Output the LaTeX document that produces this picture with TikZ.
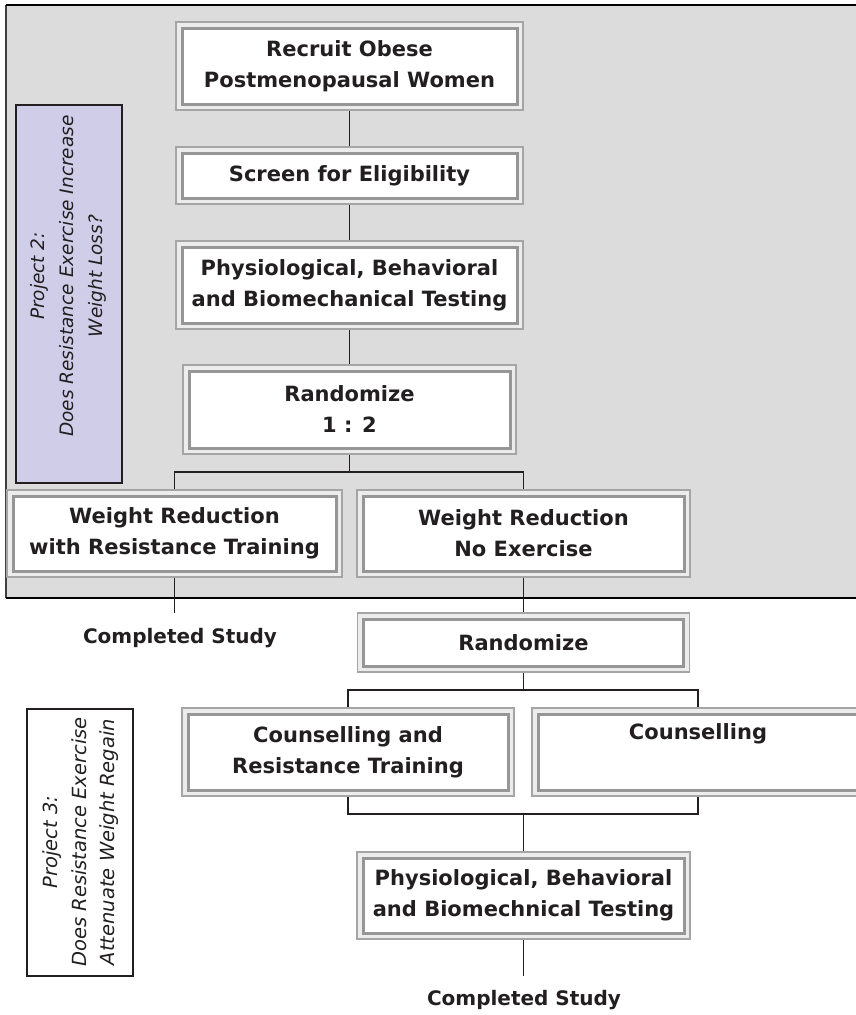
\documentclass[tikz,border=0pt]{standalone}
\usepackage{fontspec}
\setmainfont{DejaVu Sans}
\pgfdeclarelayer{back}
\pgfdeclarelayer{lines}
\pgfdeclarelayer{frames}
\pgfsetlayers{back,lines,frames,main}
\definecolor{bgray}{RGB}{220,220,220}
\definecolor{framein}{RGB}{150,150,150}
\definecolor{frameout}{RGB}{165,165,165}
\definecolor{gapc}{RGB}{236,236,236}
\definecolor{purp}{RGB}{207,205,232}
\definecolor{txt}{RGB}{35,31,32}
\tikzset{
  box/.style={draw=framein, line width=3pt, fill=white, text=txt,
    font=\fontsize{21}{31}\selectfont\bfseries, align=center, inner sep=0pt},
  frame/.style={draw=frameout, line width=1.3pt, fill=gapc},
  conn/.style={draw=txt, line width=1.3pt},
  done/.style={text=txt, font=\fontsize{20}{24}\selectfont\bfseries, inner sep=0pt},
  projbox/.style={draw=txt, line width=1.2pt, inner sep=0pt},
  projtext/.style={text=txt, rotate=90, align=center, inner sep=0pt}
}
\begin{document}
\begin{tikzpicture}[x=1pt,y=-1pt]
\useasboundingbox (0,0) rectangle (856,1015);
% background panel
\begin{pgfonlayer}{back}
  \fill[bgray] (6,5) rectangle (862,598);
  \draw[line width=1.2pt, black!75] (6,5) -- (6,598);
  \draw[line width=1.3pt, black] (6,5) -- (862,5);
  \draw[line width=1.3pt, black] (6,598) -- (862,598);
\end{pgfonlayer}
% project boxes
\node[projbox, fill=purp, minimum width=106, minimum height=378] (p2) at (69,294) {};
\node[projtext, font=\fontsize{18.5}{29}\selectfont\itshape] (p2t) at (68,276)
  {Project 2:\\Does Resistance Exercise Increase\\Weight Loss?};
\node[projbox, fill=white, minimum width=106, minimum height=267] (p3) at (80,842.5) {};
\node[projtext, font=\fontsize{19.5}{28.5}\selectfont\itshape] (p3t) at (81,842)
  {Project 3:\\Does Resistance Exercise\\Attenuate Weight Regain};
% flow boxes
\node[box, minimum width=335, minimum height=76] (b1) at (349.5,66) {Recruit Obese\\Postmenopausal Women};
\node[box, minimum width=335, minimum height=45] (b2) at (349.5,175.5) {Screen for Eligibility};
\node[box, minimum width=335, minimum height=76] (b3) at (349.5,285) {Physiological, Behavioral\\and Biomechanical Testing};
\node[box, minimum width=321, minimum height=77] (b4) at (349.5,409.5) {Randomize\\1 : 2};
\node[box, minimum width=323, minimum height=75] (b5) at (174.5,533.5) {Weight Reduction\\with Resistance Training};
\node[box, minimum width=321, minimum height=75] (b6) at (523.5,533.5) {Weight Reduction\\No Exercise};
\node[box, minimum width=320, minimum height=47] (b7) at (523.5,642.5) {Randomize};
\node[box, minimum width=320, minimum height=76] (b8) at (348,752) {Counselling and\\Resistance Training};
\node[box, minimum width=320, minimum height=76] (b9) at (698,752) {Counselling\\\strut};
\node[box, minimum width=321, minimum height=75] (b10) at (523.5,895.5) {Physiological, Behavioral\\and Biomechnical Testing};
% outer frames
\begin{pgfonlayer}{frames}
  \foreach \n in {b1,b2,b3,b4,b5,b6,b7,b8,b9,b10}
    \path[frame] ([shift={(-4.5,-4.5)}]\n.north west) rectangle ([shift={(4.5,4.5)}]\n.south east);
\end{pgfonlayer}
% end labels
\coordinate (e1) at (174.5,613);
\coordinate (e2) at (523.5,976);
\node[done] (c1) at (180,638) {Completed Study};
\node[done] (c2) at (524,1000) {Completed Study};
% split points
\coordinate (s1) at (349.5,472);
\coordinate (s2) at (523.5,690);
\coordinate (s3) at (523.5,814);
% connectors
\begin{pgfonlayer}{lines}
  \path[conn] (b1.south) -- (b2.north);
  \path[conn] (b2.south) -- (b3.north);
  \path[conn] (b3.south) -- (b4.north);
  \path[conn] (b4.south) -- (s1) -| (b5.north);
  \path[conn] (s1) -| (b6.north);
  \path[conn] (b5.south) -- (e1);
  \path[conn] (b6.south) -- (b7.north);
  \path[conn] (b7.south) -- (s2) -| (b8.north);
  \path[conn] (s2) -| (b9.north);
  \path[conn] (b8.south) |- (s3);
  \path[conn] (b9.south) |- (s3);
  \path[conn] (s3) -- (b10.north);
  \path[conn] (b10.south) -- (e2);
\end{pgfonlayer}
\end{tikzpicture}
\end{document}
